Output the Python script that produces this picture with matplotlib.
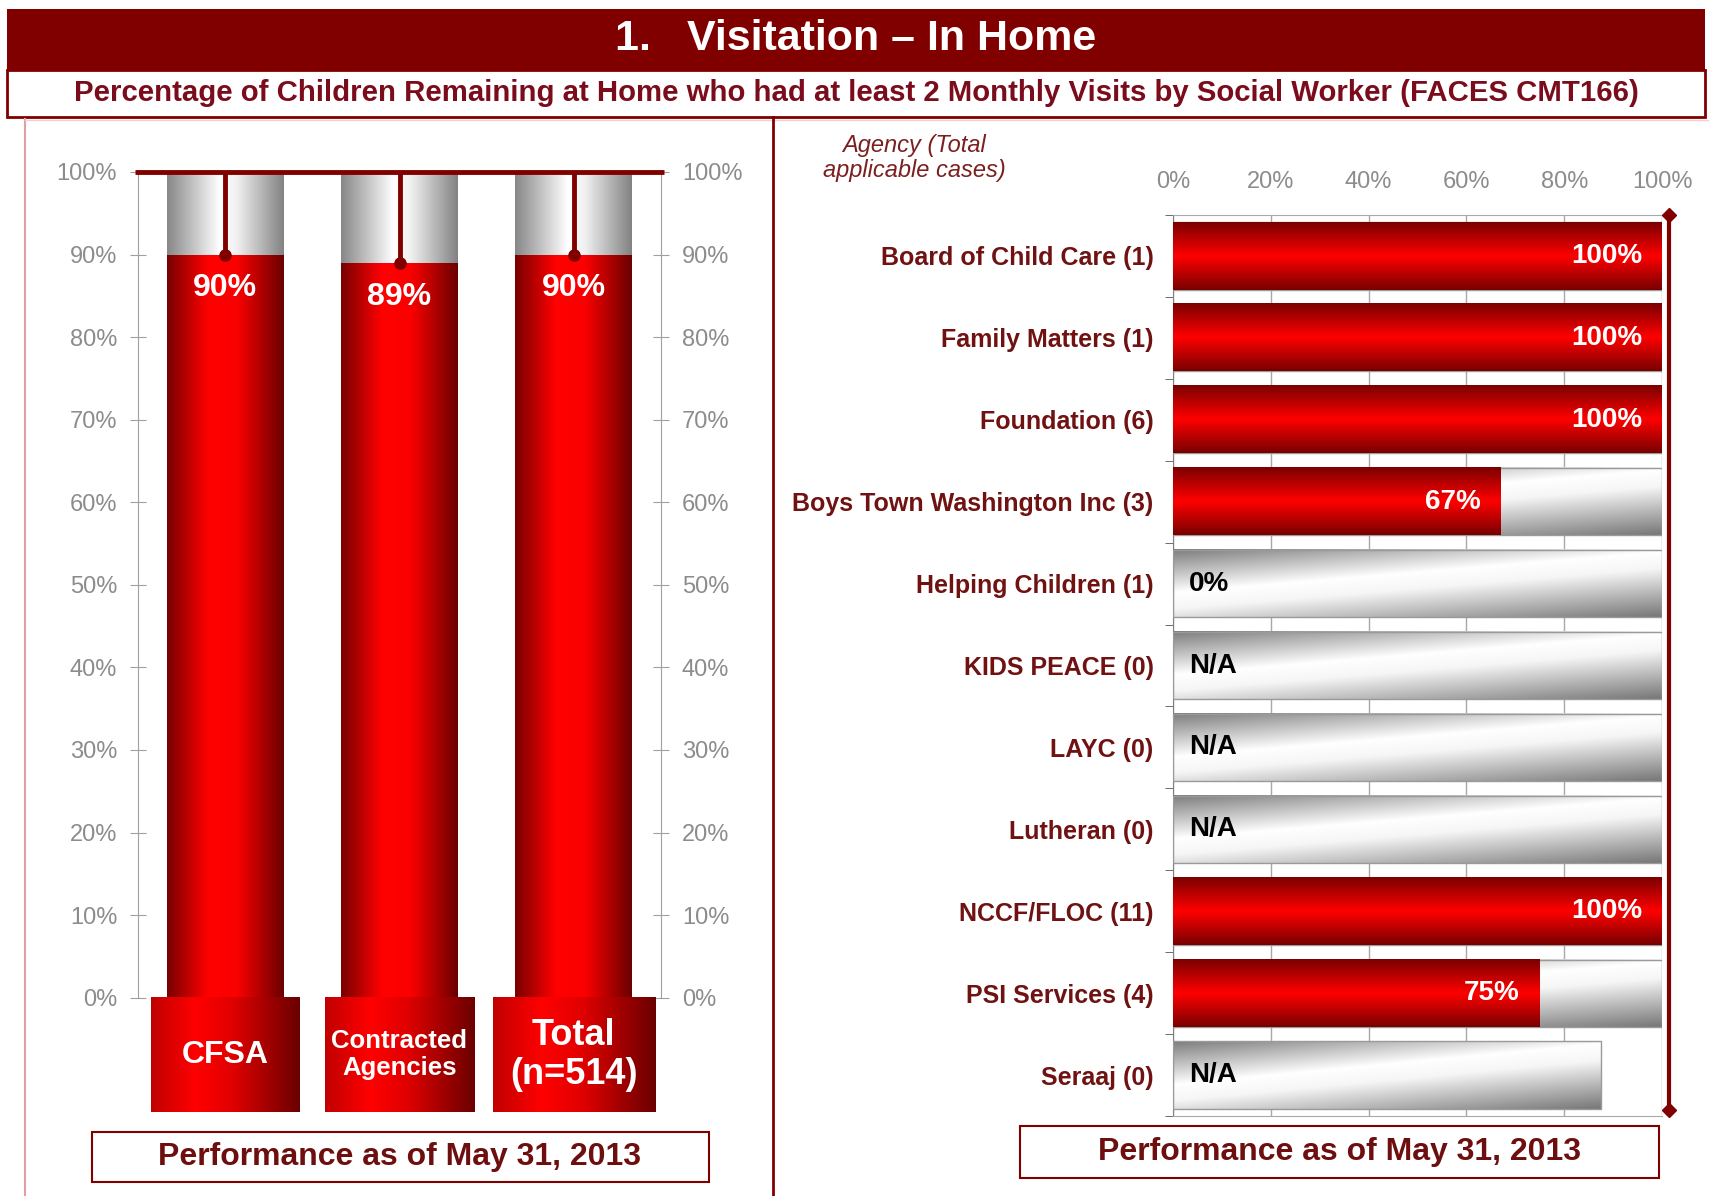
import numpy as np
import matplotlib
matplotlib.use('Agg')
import matplotlib.pyplot as plt
from matplotlib.colors import LinearSegmentedColormap
from matplotlib.patches import Rectangle
from matplotlib.lines import Line2D

plt.rcParams['font.family'] = ['Liberation Sans', 'DejaVu Sans']

# left chart: overall performance
groups = ['CFSA', 'Contracted\nAgencies', 'Total\n(n=514)']
group_pct = [90, 89, 90]

# right chart: agencies
agencies = ['Board of Child Care (1)', 'Family Matters (1)', 'Foundation (6)',
            'Boys Town Washington Inc (3)', 'Helping Children (1)', 'KIDS PEACE (0)',
            'LAYC (0)', 'Lutheran (0)', 'NCCF/FLOC (11)', 'PSI Services (4)', 'Seraaj (0)']
agency_pct = [100, 100, 100, 67, 0, np.nan, np.nan, np.nan, 100, 75, np.nan]
agency_text = ['100%', '100%', '100%', '67%', '0%', 'N/A', 'N/A', 'N/A', '100%', '75%', 'N/A']
agency_track = [100, 100, 100, 100, 100, 100, 100, 100, 100, 100, 87.5]

title = '1.   Visitation \u2013 In Home'
subtitle = ('Percentage of Children Remaining at Home who had at least 2 Monthly '
            'Visits by Social Worker (FACES CMT166)')
footnote = 'Performance as of May 31, 2013'

MAROON = '#800000'
TEXT_RED = '#6e0f0f'
GRAY_TXT = '#8c8c8c'

W, H = 1711, 1196
fig = plt.figure(figsize=(W / 100, H / 100), dpi=100)


def fx(px):
    return px / W


def fy(py):
    return 1 - py / H


red_h = LinearSegmentedColormap.from_list('red_h', [(0, '#780000'), (0.35, '#ff0000'),
                                                    (0.6, '#fa0000'), (1, '#6a0000')])
red_v = LinearSegmentedColormap.from_list('red_v', [(0, '#7a0000'), (0.5, '#ff0000'),
                                                    (1, '#780000')])
red_box = LinearSegmentedColormap.from_list('red_box', [(0, '#c00000'), (0.3, '#ff0000'),
                                                        (0.55, '#e00000'), (1, '#6a0000')])
gray_h = LinearSegmentedColormap.from_list('gray_h', [(0, '#878787'), (0.45, '#ffffff'),
                                                      (0.6, '#f0f0f0'), (1, '#828282')])
gray_d = LinearSegmentedColormap.from_list('gray_d', [(0, '#7c7c7c'), (0.4, '#ffffff'),
                                                      (0.55, '#f6f6f6'), (1, '#777777')])


def grad_fill(ax, patch, cmap, mode, z):
    w, h = patch.get_width(), patch.get_height()
    if w == 0 or h == 0:
        return
    x0, y0 = patch.get_x(), patch.get_y()
    t = np.linspace(0, 1, 256)
    if mode == 'h':
        img = np.tile(t, (2, 1))
    elif mode == 'v':
        img = np.tile(t[:, None], (1, 2))
    else:
        xx, yy = np.meshgrid(t, t)
        img = (0.6 * xx + yy) / 1.6
    ax.imshow(img, cmap=cmap, vmin=0, vmax=1, extent=(x0, x0 + w, y0, y0 + h),
              origin='lower', aspect='auto', interpolation='bilinear', zorder=z)
    patch.set_facecolor('none')


# header band and subtitle box
fig.add_artist(Rectangle((fx(7), fy(70)), fx(1705) - fx(7), 61 / H,
                         transform=fig.transFigure, facecolor=MAROON, edgecolor='none'))
fig.add_artist(Rectangle((fx(7), fy(117)), fx(1705) - fx(7), 47 / H,
                         transform=fig.transFigure, facecolor='white', edgecolor=MAROON, lw=2))
fig.text(fx(856), fy(39), title, color='white', fontsize=31, fontweight='bold',
         ha='center', va='center')
fig.text(fx(856), fy(93), subtitle, color='#7b0c1c', fontsize=21.2, fontweight='bold',
         ha='center', va='center')

# panel frame lines
fig.add_artist(Line2D([fx(25), fx(25)], [fy(119), 0], color='#e0a0a0', lw=1.5))
fig.add_artist(Line2D([fx(25), fx(1708)], [fy(120), fy(120)], color='#f0d0d0', lw=1))
fig.add_artist(Line2D([fx(773), fx(773)], [fy(117), 0], color=MAROON, lw=2))

# ---------------- left chart ----------------
ax1 = fig.add_axes([fx(138), fy(1112), (661 - 138) / W, (1112 - 172) / H])
x = np.arange(len(groups))
low = ax1.bar(x, group_pct, width=0.67, zorder=2)
top = ax1.bar(x, [100 - p for p in group_pct], bottom=group_pct, width=0.67, zorder=2)
boxes = ax1.bar(x, 13.85, bottom=-13.85, width=[0.85, 0.86, 0.93], zorder=2)
for p in low:
    grad_fill(ax1, p, red_h, 'h', 3)
for p in top:
    grad_fill(ax1, p, gray_h, 'h', 3)
for p in boxes:
    grad_fill(ax1, p, red_box, 'h', 3)

ax1.vlines(x, group_pct, 100, color=MAROON, lw=3.5, zorder=5)
ax1.plot(x, group_pct, 'o', color=MAROON, ms=8, zorder=5)
ax1.hlines(100, -0.52, 2.52, color=MAROON, lw=3.5, zorder=6, clip_on=False)

for xi, p in zip(x, group_pct):
    ax1.text(xi, p - 4.1, f'{p}%', color='white', fontsize=23, fontweight='bold',
             ha='center', va='center', zorder=7)
for xi, g, fs in zip(x, groups, [23, 18.5, 26]):
    ax1.text(xi, -6.9, g, color='white', fontsize=fs, fontweight='bold',
             ha='center', va='center', linespacing=1.15, zorder=7)

ax1.set_xlim(-0.5, 2.5)
ax1.set_ylim(-13.85, 100)
ax1.set_xticks([])
ax1.set_yticks(range(0, 101, 10))
ax1.set_yticklabels([f'{v}%' for v in range(0, 101, 10)])
for s in ['top', 'bottom']:
    ax1.spines[s].set_visible(False)
for s in ['left', 'right']:
    ax1.spines[s].set_color('#a0a0a0')
    ax1.spines[s].set_bounds(0, 100)
ax1.tick_params(axis='y', direction='inout', length=12, color='#a0a0a0',
                labelcolor=GRAY_TXT, labelsize=17, left=True, right=True,
                labelleft=True, labelright=True, pad=9)
ax1.patch.set_visible(False)

fig.add_artist(Rectangle((fx(92), fy(1182)), (709 - 92) / W, 50 / H, transform=fig.transFigure,
                         facecolor='white', edgecolor=MAROON, lw=1.5))
fig.text(fx(400), fy(1157), footnote, color=TEXT_RED, fontsize=23, fontweight='bold',
         ha='center', va='center')

# ---------------- right chart ----------------
ax2 = fig.add_axes([fx(1173), fy(1116), (1662 - 1173) / W, (1116 - 215) / H])
y = np.arange(len(agencies))
tracks = ax2.barh(y, agency_track, height=0.82, edgecolor='#9a9a9a', lw=1, zorder=3)
for p in tracks:
    grad_fill(ax2, p, gray_d, 'd', 2)
vals = ax2.barh(y, np.nan_to_num(agency_pct), height=0.82, zorder=5)
for p in vals:
    grad_fill(ax2, p, red_v, 'v', 4)

for i, (p, t) in enumerate(zip(agency_pct, agency_text)):
    if p > 0:
        ax2.text(p - 4.1, i, t, color='white', fontsize=20, fontweight='bold',
                 ha='right', va='center', zorder=7)
    else:
        ax2.text(3.3, i, t, color='black', fontsize=20, fontweight='bold',
                 ha='left', va='center', zorder=7)

ax2.plot([101.5, 101.5], [-0.5, 10.43], color=MAROON, lw=3, clip_on=False, zorder=6)
ax2.plot([101.5, 101.5], [-0.5, 10.43], 'D', color=MAROON, ms=7, clip_on=False, zorder=6)

ax2.set_xlim(0, 100)
ax2.set_ylim(10.5, -0.5)
ax2.xaxis.tick_top()
ax2.set_xticks(range(0, 101, 20))
ax2.set_xticklabels([f'{v}%' for v in range(0, 101, 20)])
ax2.tick_params(axis='x', length=0, pad=16, labelsize=17, labelcolor=GRAY_TXT)
ax2.set_yticks(y)
ax2.set_yticklabels(agencies)
ax2.set_yticks(np.arange(-0.5, 11, 1), minor=True)
ax2.tick_params(axis='y', which='major', length=0, pad=14, labelsize=18,
                labelcolor='#701212')
ax2.tick_params(axis='y', which='minor', length=6, color='#555555', direction='out')
for lab in ax2.get_yticklabels():
    lab.set_fontweight('bold')
ax2.grid(axis='x', color='#a8a8a8', lw=1)
ax2.set_axisbelow(True)
ax2.spines['right'].set_visible(False)
for s in ['top', 'bottom']:
    ax2.spines[s].set_color('#a8a8a8')
ax2.spines['left'].set_color('#808080')

fig.text(fx(914), fy(158), 'Agency (Total\napplicable cases)', color='#7b2020', fontsize=17,
         fontstyle='italic', ha='center', va='center', linespacing=1.1)

fig.add_artist(Rectangle((fx(1020), fy(1178)), (1659 - 1020) / W, 52 / H,
                         transform=fig.transFigure, facecolor='white', edgecolor=MAROON, lw=1.5))
fig.text(fx(1340), fy(1152), footnote, color=TEXT_RED, fontsize=23, fontweight='bold',
         ha='center', va='center')

fig.savefig('out.png', dpi=100)
